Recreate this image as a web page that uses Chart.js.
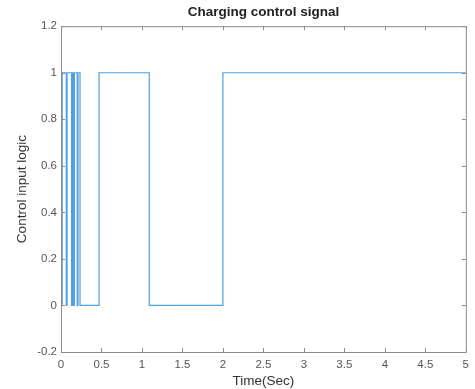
<!DOCTYPE html>
<html>
<head>
<meta charset="utf-8">
<script src="https://cdn.jsdelivr.net/npm/chart.js@4/dist/chart.umd.min.js"></script>
<style>
  html, body { margin: 0; padding: 0; background: #fff; }
  #wrap { width: 475px; height: 389px; }
</style>
</head>
<body>
<div id="wrap"><canvas id="signalChart" width="475" height="389"></canvas></div>
<script>
// switching instants (s) and the logic level held from each instant on
const times  = [0, 0.015, 0.065, 0.075, 0.13, 0.14, 0.155, 0.165, 0.2, 0.21, 0.235, 0.47, 1.09, 2.0, 5];
const levels = [0, 1,     0,     1,     0,    1,    0,     1,     0,   1,    0,     1,    0,    1,   1];

const xTicks = [0, 0.5, 1, 1.5, 2, 2.5, 3, 3.5, 4, 4.5, 5];
const yTicks = [-0.2, 0, 0.2, 0.4, 0.6, 0.8, 1, 1.2];

const AXIS = '#8c8c8c';
const LABEL = '#555555';
const LINE = '#4ea1dc';
const FONT = "'Liberation Sans', Arial, Helvetica, sans-serif";

// MATLAB style box: top/right edges and inward tick marks
const boxTicks = {
  id: 'boxTicks',
  afterDraw(chart) {
    const { ctx, chartArea: a, scales } = chart;
    ctx.save();
    ctx.strokeStyle = AXIS;
    ctx.lineWidth = 1;
    ctx.strokeRect(a.left + 0.5, a.top + 0.5, a.right - a.left, a.bottom - a.top);
    ctx.beginPath();
    xTicks.forEach(v => {
      const x = Math.round(scales.x.getPixelForValue(v)) + 0.5;
      ctx.moveTo(x, a.bottom); ctx.lineTo(x, a.bottom - 4);
      ctx.moveTo(x, a.top); ctx.lineTo(x, a.top + 4);
    });
    yTicks.forEach(v => {
      const y = Math.round(scales.y.getPixelForValue(v)) + 0.5;
      ctx.moveTo(a.left, y); ctx.lineTo(a.left + 4, y);
      ctx.moveTo(a.right, y); ctx.lineTo(a.right - 4, y);
    });
    ctx.stroke();
    ctx.restore();
  }
};

const fmt = v => String(Number(v.toFixed(1)));

new Chart(document.getElementById('signalChart'), {
  type: 'scatter',
  data: {
    datasets: [{
      data: times.map((t, i) => ({ x: t, y: levels[i] })),
      showLine: true,
      stepped: 'before',   // hold previous level, then jump at the new instant
      borderColor: LINE,
      borderWidth: 1.2,
      pointRadius: 0,
      fill: false
    }]
  },
  options: {
    responsive: false,
    animation: false,
    layout: { padding: { left: 0, right: 9, top: 0, bottom: 0 } },
    plugins: {
      legend: { display: false },
      tooltip: { enabled: false },
      title: {
        display: true,
        text: 'Charging control signal',
        fullSize: false,
        color: '#222',
        font: { family: FONT, size: 13.5, weight: 'bold' },
        padding: { top: 4, bottom: 6 }
      }
    },
    scales: {
      x: {
        type: 'linear',
        min: 0, max: 5,
        afterBuildTicks: s => { s.ticks = xTicks.map(v => ({ value: v })); },
        afterFit: s => { s.height = 37; },
        grid: { display: false, drawTicks: false },
        border: { display: true, color: AXIS },
        ticks: { color: LABEL, font: { family: FONT, size: 11.5 }, padding: 6, maxRotation: 0, callback: fmt },
        title: {
          display: true, text: 'Time(Sec)', color: '#333',
          font: { family: FONT, size: 13.5 }, padding: { top: 0, bottom: 0 }
        }
      },
      y: {
        type: 'linear',
        min: -0.2, max: 1.2,
        afterBuildTicks: s => { s.ticks = yTicks.map(v => ({ value: v })); },
        afterFit: s => { s.width = 61; },
        grid: { display: false, drawTicks: false },
        border: { display: true, color: AXIS },
        ticks: { color: LABEL, font: { family: FONT, size: 11.5 }, padding: 4, callback: fmt },
        title: {
          display: true, text: 'Control input logic', color: '#333',
          font: { family: FONT, size: 13.5 }, padding: { top: 14, bottom: 0 }
        }
      }
    }
  },
  plugins: [boxTicks]
});
</script>
</body>
</html>
